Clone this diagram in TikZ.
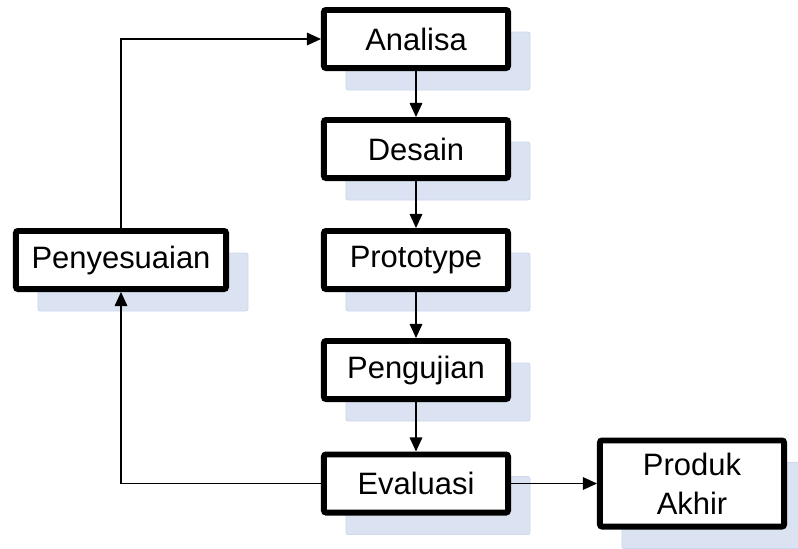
\documentclass[tikz,border=0pt]{standalone}
\usepackage{fontspec}
\setmainfont{Liberation Sans}
\usetikzlibrary{arrows.meta,shadows}
\definecolor{bayang}{RGB}{219,227,242}
\definecolor{bayangtepi}{RGB}{205,216,235}

\begin{document}
\begin{tikzpicture}[>={Triangle[length=10pt,width=9pt]},x=0.025cm,y=-0.025cm,
    kotak/.style={draw,line width=4.25pt,rounded corners=1.5pt,fill=white,
      minimum width=4.6cm,minimum height=1.45cm,inner sep=0pt,align=center,
      font=\fontsize{22}{27.5}\selectfont,
      drop shadow={shadow xshift=0.55cm,shadow yshift=-0.55cm,fill=bayang,
        draw=bayangtepi,line width=0.6pt,opacity=1}},
    panah/.style={->,line width=0.8pt}]
    \useasboundingbox (0,0) rectangle (798,548);
    \clip (0,0) rectangle (798,548);
    \def\xt{416} % sumbu tengah kolom
    \node[kotak] (analisa) at (\xt,39) {Analisa};
    \node[kotak] (desain) at (\xt,149) {Desain};
    \node[kotak] (prototype) at (\xt,260) {Prototype};
    \node[kotak] (pengujian) at (\xt,370) {Pengujian};
    \node[kotak] (evaluasi) at (\xt,483.5) {Evaluasi};
    \node[kotak,minimum height=2.15cm] (produk) at (692,483.5) {Produk\\Akhir};
    \node[kotak,minimum width=5.25cm] (penyesuaian) at (121,260) {Penyesuaian};
    \draw[panah] (analisa) -- (desain);
    \draw[panah] (desain) -- (prototype);
    \draw[panah] (prototype) -- (pengujian);
    \draw[panah] (pengujian) -- (evaluasi);
    \draw[panah] (evaluasi) -- (produk);
    \draw[panah] (evaluasi.west) -| (penyesuaian.south);
    \draw[panah] (penyesuaian.north) |- (analisa.west);
\end{tikzpicture}
\end{document}
